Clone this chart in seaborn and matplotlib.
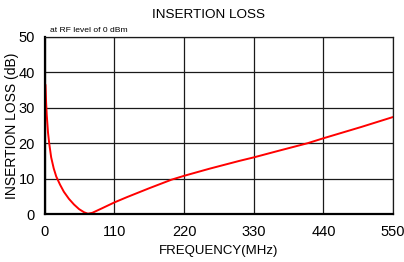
import matplotlib
matplotlib.use('Agg')
import matplotlib.pyplot as plt
import seaborn as sns
import pandas as pd

# values
freq_mhz = [1, 2, 3, 5, 7, 10, 14, 18, 24, 30, 38, 46, 54, 62, 68, 75, 90, 110, 130,
            165, 200, 220, 260, 307, 330, 370, 415, 440, 500, 550]
loss_db = [36.5, 31.5, 28, 23, 19.8, 16, 12.9, 10.6, 8.3, 6.3, 4.3, 2.7, 1.4, 0.5, 0.1,
           0.35, 1.6, 3.3, 4.8, 7.3, 9.7, 10.8, 12.8, 15.0, 16.0, 17.9, 20.0, 21.4,
           24.6, 27.4]
x_ticks = [0, 110, 220, 330, 440, 550]
y_ticks = [0, 10, 20, 30, 40, 50]

df = pd.DataFrame({"freq": freq_mhz, "loss": loss_db})

sns.set_style("white")
plt.rcParams['font.family'] = ['Liberation Sans', 'DejaVu Sans']
plt.rcParams['text.color'] = 'black'
plt.rcParams['axes.labelcolor'] = 'black'
plt.rcParams['xtick.color'] = 'black'
plt.rcParams['ytick.color'] = 'black'

fig = plt.figure(figsize=(4.04, 2.62), dpi=100)
ax = fig.add_axes([0.111, 0.183, 0.862, 0.676])

sns.lineplot(data=df, x="freq", y="loss", color="#ff0000", linewidth=1.4, ax=ax)

ax.set_xlim(0, 550)
ax.set_ylim(0, 50)
ax.set_xticks(x_ticks)
ax.set_yticks(y_ticks)
ax.grid(True, color="#1a1a1a", linewidth=0.9)
ax.set_axisbelow(True)
ax.tick_params(axis='both', direction='out', length=3, width=0.8, labelsize=10.5)
ax.tick_params(axis='x', pad=5)
ax.tick_params(axis='y', pad=4)
for side in ['top', 'right']:
    ax.spines[side].set_color('#1a1a1a')
    ax.spines[side].set_linewidth(0.9)
for side in ['left', 'bottom']:
    ax.spines[side].set_color('black')
    ax.spines[side].set_linewidth(1.6)

ax.set_xlabel("FREQUENCY(MHz)", fontsize=9.5, labelpad=4)
ax.set_ylabel("INSERTION LOSS (dB)", fontsize=10, labelpad=0)
# title sits a little left of the axes centre in the original
fig.text(0.515, 0.942, "INSERTION LOSS", fontsize=9.7, ha='center', va='center')
ax.text(0.015, 1.015, "at RF level of 0 dBm", transform=ax.transAxes,
        fontsize=6.1, ha='left', va='bottom')

plt.savefig("out.png", dpi=100)
plt.close()
